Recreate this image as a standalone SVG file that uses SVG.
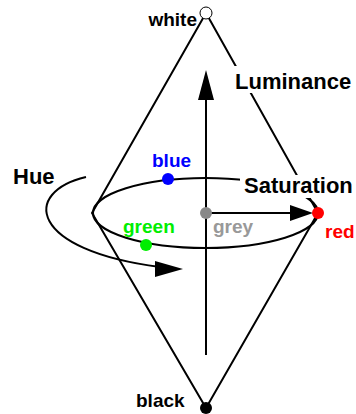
<svg xmlns="http://www.w3.org/2000/svg" width="356" height="414" viewBox="0 0 356 414">
<style>
.ln{fill:none;stroke:#000;stroke-width:2}
.lbl{font-family:"Liberation Sans",Arial,sans-serif;font-weight:bold}
.big{font-size:22px}
.sm{font-size:19px}
.bg{fill:#fff}
</style>
<rect width="356" height="414" fill="#fff"/>
<g id="connectors">
<path class="ln" d="M206,13 L92,213 L206,408 M206,13 L318,213 L206,408"/>
<ellipse class="ln" cx="205.5" cy="213" rx="112.5" ry="35"/>
<path class="ln" d="M86,177 C22,192 28,250 160,267"/>
<polygon points="183,269 155,261 155,277" fill="#000"/>
<line class="ln" x1="206" y1="355" x2="206" y2="96"/>
<polygon points="206,70 198,100 214,100" fill="#000"/>
<line class="ln" x1="206" y1="213" x2="292" y2="213"/>
<polygon points="313,213 290,205 290,221" fill="#000"/>
</g>
<g id="luminance"><rect class="bg" x="234" y="66" width="122" height="27"/><text class="lbl big" x="235" y="89">Luminance</text></g>
<g id="saturation"><rect class="bg" x="240" y="175" width="116" height="23"/><text class="lbl big" x="244" y="193">Saturation</text></g>
<g id="hue"><text class="lbl big" x="13" y="184">Hue</text></g>
<g id="white"><circle cx="206" cy="13" r="6" fill="#fff" stroke="#000" stroke-width="1"/><text class="lbl sm" x="197" y="26" text-anchor="end">white</text></g>
<g id="black"><circle cx="206" cy="408" r="6" fill="#000"/><text class="lbl sm" x="136" y="407">black</text></g>
<g id="red"><circle cx="318" cy="213" r="6" fill="#f00"/><text class="lbl sm" x="325" y="238" fill="#f00">red</text></g>
<g id="blue"><circle cx="168" cy="179" r="6" fill="#00f"/><text class="lbl sm" x="152" y="167" fill="#00f">blue</text></g>
<g id="green"><circle cx="146" cy="245" r="6" fill="#0e0"/><text class="lbl sm" x="123" y="233" fill="#0e0">green</text></g>
<g id="grey"><circle cx="206" cy="213" r="6" fill="#888"/><text class="lbl sm" x="213" y="233" fill="#999">grey</text></g>
</svg>
